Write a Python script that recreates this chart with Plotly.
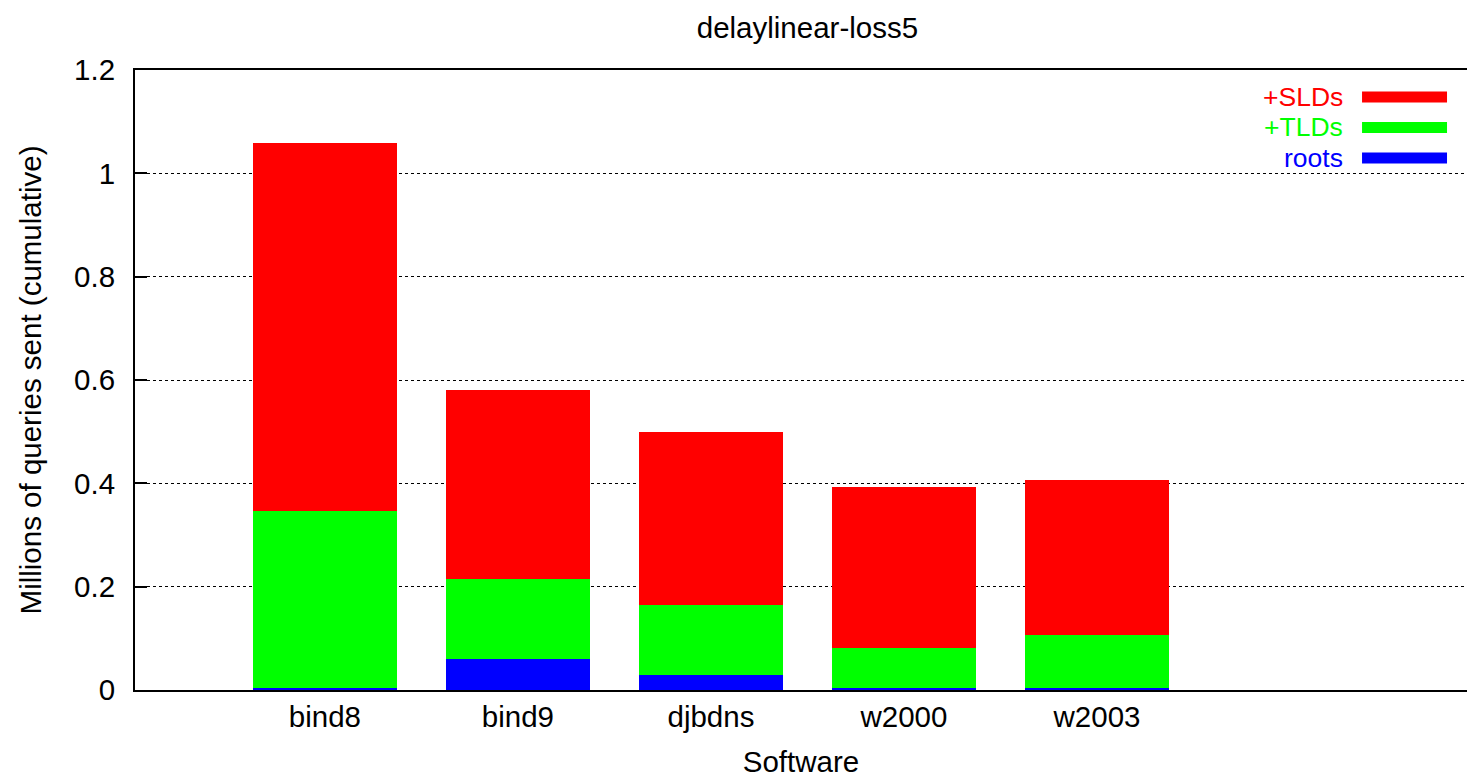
import plotly.graph_objects as go

# Data (cumulative values, millions of queries)
software = ["bind8", "bind9", "djbdns", "w2000", "w2003"]
roots = [0.004, 0.060, 0.030, 0.003, 0.004]
tlds = [0.347, 0.215, 0.164, 0.082, 0.107]
slds = [1.058, 0.581, 0.500, 0.392, 0.407]

series_names = ["+SLDs", "+TLDs", "roots"]
series_values = [slds, tlds, roots]
series_colors = ["#ff0000", "#00ff00", "#0000ff"]

FONT = "Liberation Sans, Arial, sans-serif"
FS = 29.5
LEG_FS = 26.5

fig = go.Figure()
for name, vals, col in zip(series_names, series_values, series_colors):
    fig.add_trace(go.Bar(
        x=software, y=vals, name=name, width=0.75,
        marker=dict(color=col, line=dict(width=0)),
        showlegend=False,
    ))

# manual gnuplot-style legend (text right-aligned, sample to the right)
leg_y = [0.9565, 0.9073, 0.8581]
for name, col, yy in zip(series_names, series_colors, leg_y):
    fig.add_annotation(
        xref="paper", yref="paper", x=0.9077, y=yy,
        text=name, showarrow=False, xanchor="right", yanchor="middle",
        borderpad=0,
        font=dict(family=FONT, size=LEG_FS, color=col),
    )
    fig.add_shape(
        type="line", xref="paper", yref="paper",
        x0=0.9212, x1=0.985, y0=yy, y1=yy,
        line=dict(color=col, width=11),
    )

fig.update_layout(
    width=1467, height=778,
    margin=dict(l=135, r=0, t=70, b=88),
    barmode="overlay",
    bargap=0,
    plot_bgcolor="white", paper_bgcolor="white",
    font=dict(family=FONT, size=FS, color="black"),
    title=dict(text="delaylinear-loss5", x=0.5504, xanchor="center",
               y=0.964, yanchor="middle",
               font=dict(family=FONT, size=FS, color="black")),
)
fig.update_xaxes(
    range=[-0.984, 5.917],
    showline=True, linecolor="black", linewidth=2, mirror=True,
    ticks="", showgrid=False,
    title=dict(text="Software", standoff=22, font=dict(size=FS)),
    tickfont=dict(size=FS),
)
fig.update_yaxes(
    range=[0, 1.2],
    tickvals=[0, 0.2, 0.4, 0.6, 0.8, 1.0, 1.2],
    ticktext=["0", "0.2", "0.4", "0.6", "0.8", "1", "1.2"],
    showline=True, linecolor="black", linewidth=2, mirror=False,
    ticks="inside", ticklen=12, tickwidth=2, tickcolor="black",
    ticklabelstandoff=12,
    showgrid=True, gridcolor="black", gridwidth=1, griddash="dot",
    zeroline=False,
    title=dict(text="Millions of queries sent (cumulative)", standoff=24,
               font=dict(size=FS)),
    tickfont=dict(size=FS),
)

fig.write_html("out.html")
